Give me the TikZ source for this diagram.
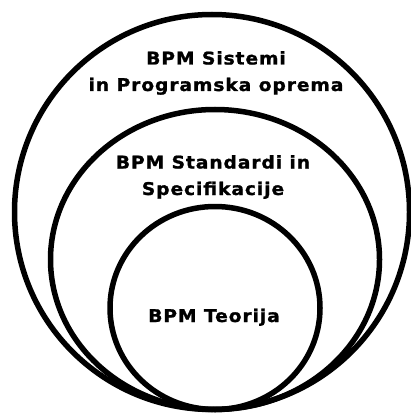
\documentclass[tikz,border=0pt]{standalone}
\usepackage{fontspec}
\setmainfont{DejaVu Sans}[BoldFont={DejaVu Sans Bold},BoldFeatures={FakeStretch=1.07,LetterSpace=5,FakeBold=1.2}]
\begin{document}
\begin{tikzpicture}[x=1pt,y=-1pt,
  ring/.style={draw=black,line width=5.5pt},
  label/.style={font=\fontsize{17.5}{26.5}\selectfont\bfseries,align=center,inner sep=0pt,anchor=base}]
\useasboundingbox (0,0) rectangle (411,414);
% nested sets
\draw[ring] (212,212) ellipse [x radius=197.5,y radius=197.5];
\draw[ring] (215,259.5) ellipse [x radius=164.5,y radius=150];
\draw[ring] (215,308) ellipse [x radius=105,y radius=101.5];
% labels (anchored on the baseline of their last line)
\node[label] (sys) at (216,91) {BPM Sistemi\\in Programska oprema};
\node[label] (std) at (213,195) {BPM Standardi in\\Specifikacije};
\node[label] (teo) at (214,322) {BPM Teorija};
\end{tikzpicture}
\end{document}
